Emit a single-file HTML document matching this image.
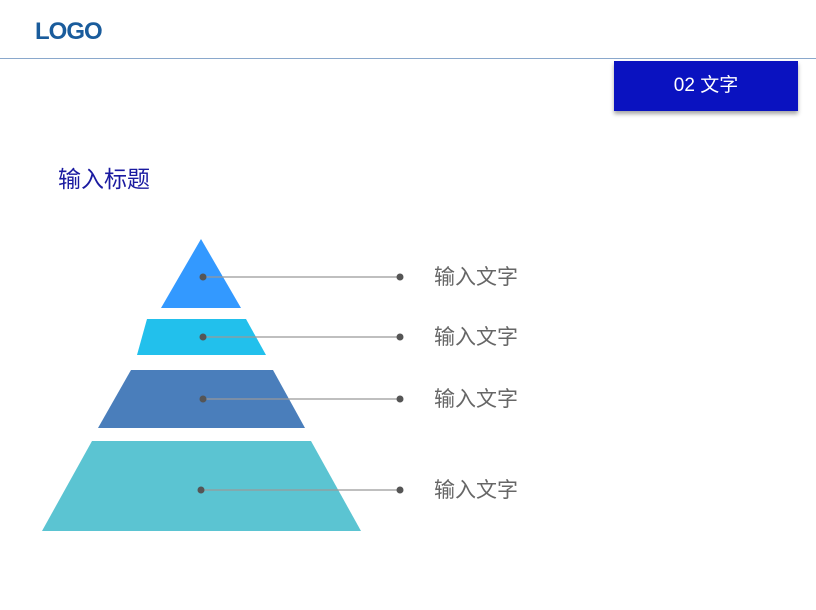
<!DOCTYPE html>
<html><head><meta charset="utf-8"><style>
body{margin:0;width:816px;height:610px;background:#fff;position:relative;overflow:hidden;font-family:"Liberation Sans","Noto Sans CJK SC",sans-serif}
.abs{position:absolute}
</style></head><body>
<div class="abs" style="left:35px;top:18px;font-size:24px;font-weight:bold;color:#1a5c9c;letter-spacing:-1px">LOGO</div>
<div class="abs" style="left:0;top:58px;width:816px;height:1px;background:#8aa8cc"></div>
<div class="abs" style="left:614px;top:61px;width:184px;height:50px;background:#0a12c0;box-shadow:0 3px 4px rgba(0,0,0,0.35);color:#fff;font-size:19px;line-height:50px;text-align:center">02 文字</div>
<div class="abs" style="left:58px;top:160px;font-size:23px;color:#1a1aa0">输入标题</div>
<svg class="abs" style="left:0;top:0" width="816" height="610">
<polygon points="201,239 241,308 161,308" fill="#3399ff"/>
<polygon points="147,319 246,319 266,355 137,355" fill="#22c0ec"/>
<polygon points="131,370 273,370 305,428 98,428" fill="#4a7ebb"/>
<polygon points="92,441 311,441 361,531 42,531" fill="#5bc4d2"/>
<g stroke="#999" stroke-width="1.2" fill="#555">
<line x1="203" y1="277" x2="400" y2="277"/>
<line x1="203" y1="337" x2="400" y2="337"/>
<line x1="203" y1="399" x2="400" y2="399"/>
<line x1="201" y1="490" x2="400" y2="490"/>
<g stroke="none">
<circle cx="203" cy="277" r="3.5"/><circle cx="400" cy="277" r="3.5"/>
<circle cx="203" cy="337" r="3.5"/><circle cx="400" cy="337" r="3.5"/>
<circle cx="203" cy="399" r="3.5"/><circle cx="400" cy="399" r="3.5"/>
<circle cx="201" cy="490" r="3.5"/><circle cx="400" cy="490" r="3.5"/>
</g></g>
<g font-family="Liberation Sans, Noto Sans CJK SC, sans-serif" font-size="21" fill="#666">
<text x="434" y="284">输入文字</text>
<text x="434" y="344">输入文字</text>
<text x="434" y="406">输入文字</text>
<text x="434" y="497">输入文字</text>
</g>
</svg>
</body></html>
